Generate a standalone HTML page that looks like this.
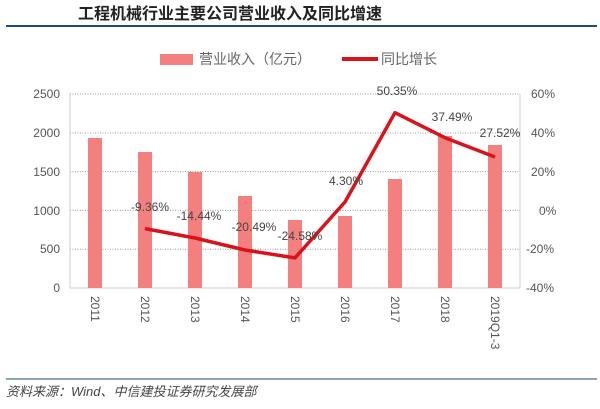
<!DOCTYPE html>
<html><head><meta charset="utf-8"><style>
body{margin:0;width:600px;height:404px;background:#fff;overflow:hidden}
text{font-family:"Liberation Sans","Noto Sans CJK SC",sans-serif}
</style></head><body>
<svg width="600" height="404" viewBox="0 0 600 404" xmlns="http://www.w3.org/2000/svg">
<text x="78" y="19" font-size="16" font-weight="bold" fill="#222">工程机械行业主要公司营业收入及同比增速</text>
<line x1="6" y1="26" x2="597" y2="26" stroke="#1f4e66" stroke-width="2"/>
<rect x="160" y="54" width="33" height="11" fill="#f47f7f"/>
<text x="199" y="64" font-size="14" fill="#666">营业收入（亿元）</text>
<line x1="342" y1="59" x2="378" y2="59" stroke="#d9131b" stroke-width="4"/>
<text x="381" y="64" font-size="14" fill="#666">同比增长</text>
<g stroke="#999" stroke-dasharray="1,1.5" stroke-width="1">
<line x1="70" y1="94" x2="520" y2="94"/><line x1="70" y1="133" x2="520" y2="133"/>
<line x1="70" y1="171.6" x2="520" y2="171.6"/><line x1="70" y1="210.4" x2="520" y2="210.4"/>
<line x1="70" y1="249.2" x2="520" y2="249.2"/></g>
<line x1="70" y1="288" x2="520" y2="288" stroke="#ccc"/>
<line x1="70" y1="94" x2="70" y2="288" stroke="#ccc"/>
<line x1="520" y1="94" x2="520" y2="288" stroke="#ccc"/>
<g font-size="12" fill="#555" text-anchor="end">
<text x="60" y="98">2500</text><text x="60" y="137">2000</text><text x="60" y="176">1500</text>
<text x="60" y="215">1000</text><text x="60" y="253">500</text><text x="60" y="292">0</text></g>
<g font-size="12" fill="#555">
<text x="531" y="98">60%</text><text x="531" y="137">40%</text><text x="531" y="176">20%</text>
<text x="539" y="215">0%</text><text x="526" y="253">-20%</text><text x="526" y="292">-40%</text></g>
<g fill="#f47f7f">
<rect x="88" y="138" width="14" height="150"/><rect x="138" y="152" width="14" height="136"/>
<rect x="188" y="172" width="14" height="116"/><rect x="238" y="196" width="14" height="92"/>
<rect x="288" y="220" width="14" height="68"/><rect x="338" y="216" width="14" height="72"/>
<rect x="388" y="179" width="14" height="109"/><rect x="438" y="136" width="14" height="152"/>
<rect x="488" y="145" width="14" height="143"/></g>
<polyline points="145,228.6 195,238 245,250 295,257.9 345,202 395,112.7 445,137.7 495,157" fill="none" stroke="#d9131b" stroke-width="3.5" stroke-linejoin="round"/>
<g font-size="12" fill="#444" text-anchor="middle">
<text x="150" y="211">-9.36%</text><text x="199" y="220">-14.44%</text><text x="254" y="231">-20.49%</text>
<text x="300" y="240">-24.58%</text><text x="346" y="185">4.30%</text><text x="397" y="95">50.35%</text>
<text x="452" y="121">37.49%</text><text x="500" y="137">27.52%</text></g>
<g font-size="12" fill="#555">
<text transform="translate(91,296) rotate(90)">2011</text><text transform="translate(141,296) rotate(90)">2012</text>
<text transform="translate(191,296) rotate(90)">2013</text><text transform="translate(241,296) rotate(90)">2014</text>
<text transform="translate(291,296) rotate(90)">2015</text><text transform="translate(341,296) rotate(90)">2016</text>
<text transform="translate(391,296) rotate(90)">2017</text><text transform="translate(441,296) rotate(90)">2018</text>
<text transform="translate(491,296) rotate(90)">2019Q1-3</text></g>
<line x1="6" y1="379" x2="597" y2="379" stroke="#1f4e66" stroke-width="1"/>
<text x="6" y="396" font-size="13" font-style="italic" fill="#444">资料来源：Wind、中信建投证券研究发展部</text>
</svg>
</body></html>
